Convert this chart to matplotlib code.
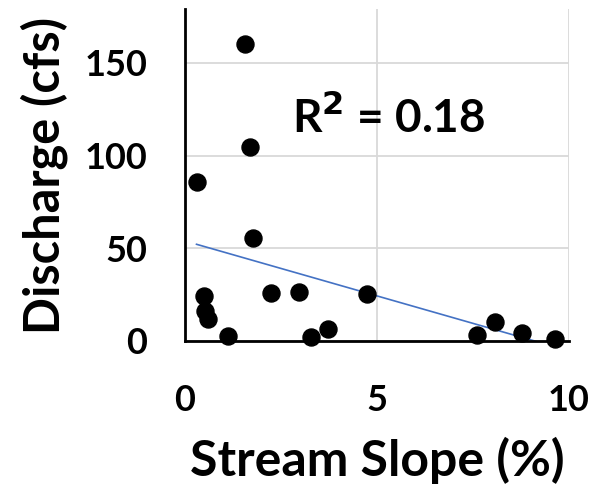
import numpy as np
import matplotlib.pyplot as plt

plt.rcParams['font.family'] = ['Lato', 'DejaVu Sans']
plt.rcParams['font.weight'] = 'bold'

# stream slope (%) and discharge (cfs)
slope = [1.56, 1.68, 0.30, 1.78, 0.49, 0.51, 0.59, 1.11, 2.24, 2.96,
         3.27, 3.73, 4.74, 7.61, 8.06, 8.77, 9.64]
discharge = [160, 104.7, 85.8, 55.6, 24.4, 16.4, 11.7, 2.7, 25.8, 26.5,
             2.0, 6.7, 25.5, 3.5, 10.3, 4.5, 0.9]
r2_text = "R$^2$ = 0.18"

x = np.array(slope)
y = np.array(discharge)
m, b = np.polyfit(x, y, 1)
xs = np.array([x.min(), x.max()])

fig = plt.figure(figsize=(5.97, 4.91), dpi=100)
ax = fig.add_axes([185/597, 1 - 341/491, 384/597, 332/491])

ax.plot(xs, m*xs + b, color='#4472C4', lw=1.2, zorder=2)
ax.scatter(x, y, s=150, color='black', zorder=3, clip_on=False)

ax.set_xlim(0, 10)
ax.set_ylim(0, 179)
ax.set_xticks([0, 5, 10])
ax.set_yticks([0, 50, 100, 150])
ax.grid(True, color='#d9d9d9', lw=1.3)
ax.set_axisbelow(True)
for s in ['top', 'right']:
    ax.spines[s].set_visible(False)
for s in ['left', 'bottom']:
    ax.spines[s].set_linewidth(2)
ax.tick_params(length=0, labelsize=26)
ax.tick_params(axis='x', pad=31)
ax.tick_params(axis='y', pad=27)
for lab in ax.get_xticklabels() + ax.get_yticklabels():
    lab.set_fontweight('bold')

ax.set_xlabel("Stream Slope (%)", fontsize=36, fontweight='bold', labelpad=14)
ax.set_ylabel("Discharge (cfs)", fontsize=35, fontweight='bold', labelpad=12)
ax.text(5.3, 121, r2_text, fontsize=33, fontweight='bold', ha='center', va='center')

fig.savefig("out.png", dpi=100)
